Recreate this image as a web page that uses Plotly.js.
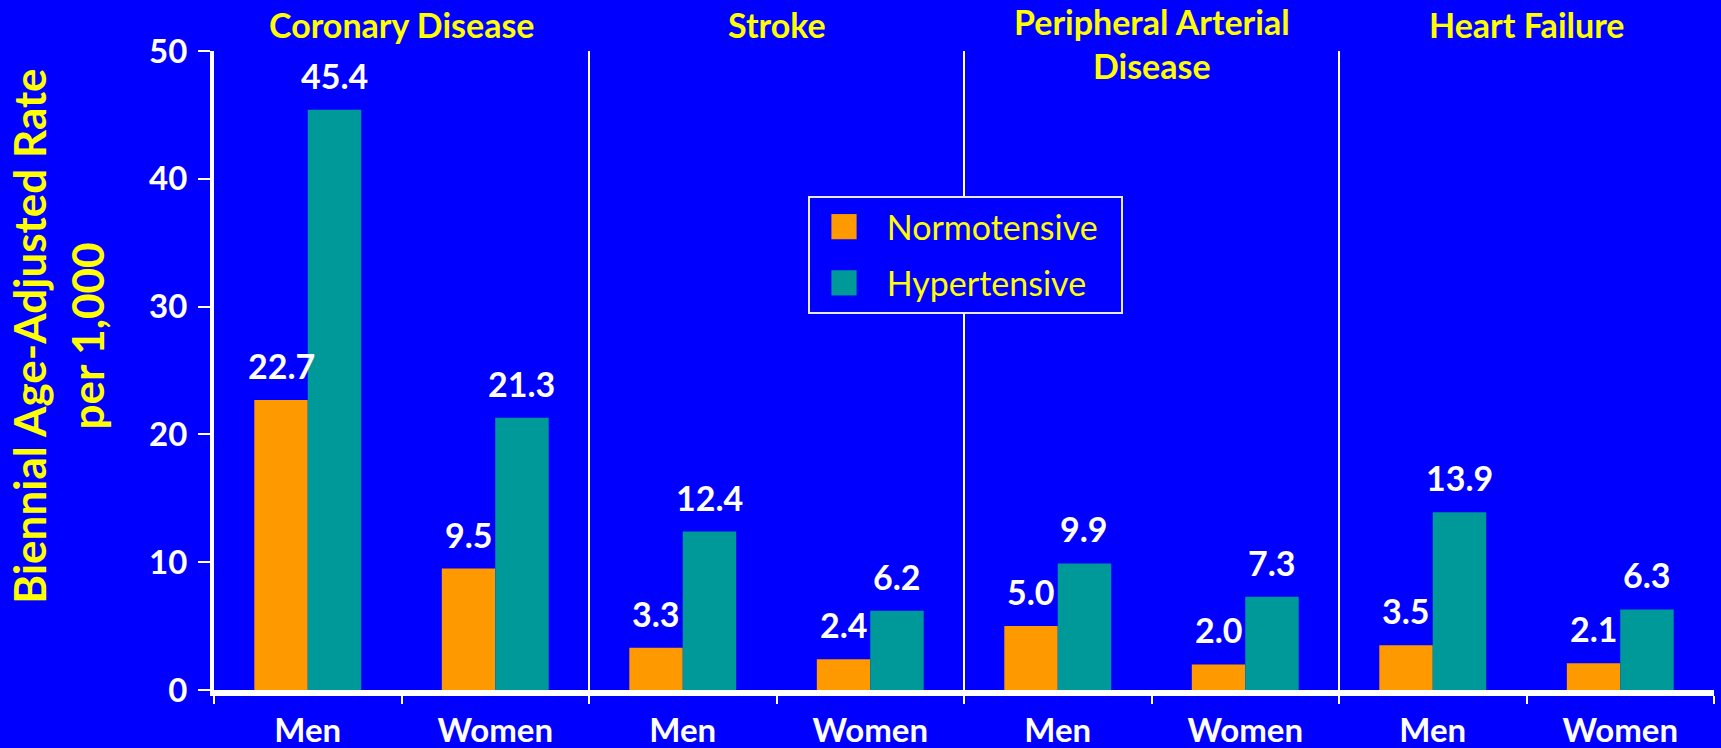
<!DOCTYPE html>
<html>
<head>
<meta charset="utf-8">
<script src="https://cdn.plot.ly/plotly-3.0.1.min.js"></script>
<style>
  html, body { margin: 0; padding: 0; background: #0000ff; }
  #chart { width: 1721px; height: 748px; }
</style>
</head>
<body>
<div id="chart"></div>
<script>
'use strict';

// ---- data ----
const groups = ['Coronary Disease', 'Stroke', 'Peripheral Arterial<br>Disease', 'Heart Failure'];
const sexes = ['Men', 'Women'];
const normotensive = [22.7, 9.5, 3.3, 2.4, 5.0, 2.0, 3.5, 2.1];
const hypertensive = [45.4, 21.3, 12.4, 6.2, 9.9, 7.3, 13.9, 6.3];
const seriesNames = ['Normotensive', 'Hypertensive'];
const yTicks = [0, 10, 20, 30, 40, 50];

// ---- style ----
const BG = '#0000ff', YEL = '#ffff00', WHITE = '#ffffff';
const COLORS = ['#ff9900', '#009999'];
const FONT = 'Lato, "Open Sans", sans-serif';
const BARGAP = 0.43;
const NB = '\u00a0';

// one unique category per group/sex pair, labelled with the sex only
const cats = [], catText = [];
groups.forEach(g => sexes.forEach(s => { cats.push(g + '|' + s); catText.push(s); }));

const series = [normotensive, hypertensive];
const traces = series.map((vals, k) => ({
  type: 'bar', x: cats, y: vals, name: NB + seriesNames[k] + NB + NB,
  legendgroup: 'g' + k,
  marker: { color: COLORS[k], line: { width: 0 } },
  hoverinfo: 'x+y+name',
}));

// value labels above each bar (half a bar width either side of the category)
const barW = (1 - BARGAP) / series.length;
const labels = [];
series.forEach((vals, k) => vals.forEach((v, i) => labels.push({
  x: i + (k - (series.length - 1) / 2) * barW, y: v, xref: 'x', yref: 'y',
  text: v.toFixed(1), showarrow: false, yanchor: 'bottom', yshift: 12,
  font: { family: FONT, size: 34, color: WHITE, weight: 700 },
})));

// group headings
const heads = groups.map((g, j) => ({
  x: j * sexes.length + (sexes.length - 1) / 2, xref: 'x',
  y: g.includes('<br>') ? 1.0125 : 1.0415, yref: 'paper',
  text: g, showarrow: false, xanchor: 'center', yanchor: 'middle',
  font: { family: FONT, size: 34, color: YEL, weight: 700 },
}));

// vertical separators between groups
const seps = groups.slice(1).map((g, j) => ({
  type: 'line', xref: 'x', yref: 'paper',
  x0: (j + 1) * sexes.length - 0.5, x1: (j + 1) * sexes.length - 0.5, y0: 0, y1: 1,
  line: { color: WHITE, width: 2 }, layer: 'below',
}));

const yTitle = {
  text: 'Biennial Age-Adjusted Rate<br>per 1,000', textangle: -90,
  xref: 'paper', yref: 'paper', x: -0.104, y: 0.553,
  xanchor: 'center', yanchor: 'middle', showarrow: false,
  font: { family: FONT, size: 44, color: YEL, weight: 700 },
};

const layout = {
  width: 1721, height: 748,
  paper_bgcolor: BG, plot_bgcolor: BG,
  margin: { l: 214, r: 7, t: 51, b: 58 },
  font: { family: FONT, color: WHITE },
  barmode: 'group', bargap: BARGAP, bargroupgap: 0,
  xaxis: {
    type: 'category', categoryorder: 'array', categoryarray: cats,
    tickvals: cats, ticktext: catText, tickson: 'boundaries',
    ticks: 'outside', ticklen: 8, tickwidth: 2, tickcolor: WHITE,
    showline: true, linecolor: WHITE, linewidth: 6,
    showgrid: false, zeroline: false, ticklabelstandoff: 6,
    tickfont: { family: FONT, size: 33, color: WHITE, weight: 700 },
  },
  yaxis: {
    range: [0, 50], tickvals: yTicks,
    ticks: 'outside', ticklen: 12, tickwidth: 2, tickcolor: WHITE,
    showline: true, linecolor: WHITE, linewidth: 4,
    showgrid: false, zeroline: false, ticklabelstandoff: 4,
    tickfont: { family: FONT, size: 33, color: WHITE, weight: 700 },
  },
  legend: {
    x: 0.396, y: 0.773, xanchor: 'left', yanchor: 'top',
    bgcolor: BG, bordercolor: '#e8e8e8', borderwidth: 2,
    itemwidth: 58, traceorder: 'grouped', tracegroupgap: 9,
    font: { family: FONT, size: 34, color: YEL },
  },
  annotations: [...labels, ...heads, yTitle],
  shapes: seps,
};

function bigSwatches(gd) {
  // enlarge the legend swatches to the slide's size
  const cp = (layout.legend.itemwidth + 10) / 2;
  gd.querySelectorAll('.legend .legendpoints path').forEach(p =>
    p.setAttribute('transform', 'translate(' + cp + ',0) scale(2.1)'));
}

Plotly.newPlot('chart', traces, layout, { displayModeBar: false, staticPlot: true }).then(gd => {
  bigSwatches(gd);
  gd.on('plotly_afterplot', () => bigSwatches(gd));
});
</script>
</body>
</html>
